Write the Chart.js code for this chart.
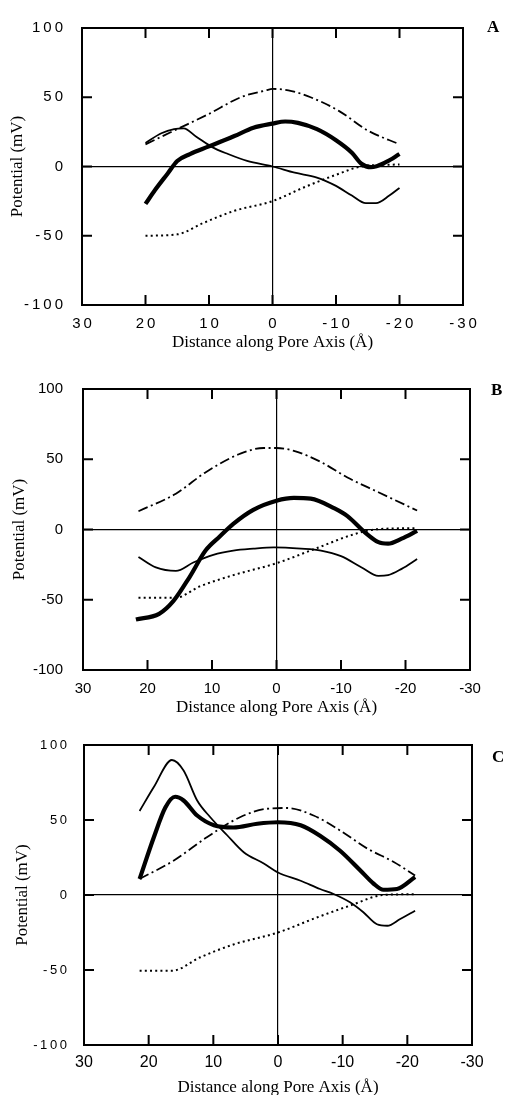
<!DOCTYPE html>
<html>
<head>
<meta charset="utf-8">
<script src="https://cdn.jsdelivr.net/npm/chart.js@4.4.1/dist/chart.umd.min.js"></script>
<style>
  body { margin: 0; background: #fff; width: 506px; height: 1095px; overflow: hidden; position: relative; }
  .panel { position: absolute; left: 0; width: 506px; }
  .tag { position: absolute; font: bold 17px "Liberation Serif", "Times New Roman", serif; line-height: 17px; color: #000; }
</style>
</head>
<body>
<div class="panel" style="top:0;height:360px"><canvas id="chartA" width="506" height="360"></canvas></div>
<div class="panel" style="top:360px;height:360px"><canvas id="chartB" width="506" height="360"></canvas></div>
<div class="panel" style="top:720px;height:390px"><canvas id="chartC" width="506" height="390"></canvas></div>
<div class="tag" style="left:487px;top:18px">A</div>
<div class="tag" style="left:491px;top:381px">B</div>
<div class="tag" style="left:492px;top:748px">C</div>

<script>
// shared axis ticks
var xTicks = [30, 20, 10, 0, -10, -20, -30];
var yTicks = [100, 50, 0, -50, -100];

// panel A
var aThickX = [20, 18.5, 16.5, 15, 13, 10, 6, 3, 0, -2, -4, -7, -10, -12.5, -14, -15.5, -18, -20];
var aThickY = [-27, -17, -5, 4, 9, 14.5, 22, 28, 31, 32.5, 31.5, 27, 19, 10, 2, -0.5, 3.5, 9];
var aThinX = [20, 17.5, 15.5, 14, 12, 9.5, 7, 4, 0, -3.5, -7, -10, -12.5, -14.7, -16.3, -18.4, -20];
var aThinY = [17, 24, 27, 27.5, 21.5, 14, 9, 4, 0, -4.5, -8, -14, -21, -26.5, -26.5, -21, -15.5];
var aDashX = [20, 15, 10, 5, 1, 0, -2.5, -6, -10.5, -15, -20];
var aDashY = [16, 27, 38, 50, 55, 56, 55, 50, 40, 26, 16];
var aDotX = [20, 15, 11, 6, 0, -5, -10, -14, -20];
var aDotY = [-50, -49, -41, -32, -25, -15, -6, 0, 1.5];

// panel B
var bThickX = [21.8, 18.2, 16, 13.5, 11, 8.8, 6.7, 3.6, 0, -2.7, -5.3, -9, -11, -13.7, -15.8, -17.3, -19.4, -21.8];
var bThickY = [-64, -60, -51, -34, -15, -5, 4, 14, 20.5, 22.5, 22, 15, 9.5, -2, -9, -10, -6.5, -1];
var bThinX = [21.4, 18.7, 15.6, 12.9, 9.8, 6.7, 3.6, 0.4, -3.8, -6.9, -10, -13.2, -15.8, -17.3, -19.4, -21.8];
var bThinY = [-19.5, -27, -29.5, -23.5, -18, -15, -13.6, -12.7, -13.6, -15, -19, -27, -33, -32.5, -28, -21];
var bDashX = [21.4, 15.6, 10.9, 5.6, 2, 0, -2.7, -6.9, -11, -15.8, -21.8];
var bDashY = [13, 25.5, 41, 54, 58, 58, 56, 48, 37, 26.5, 13.5];
var bDotX = [21.4, 15.6, 11.9, 6.7, 0, -6.4, -11.6, -15.2, -21.8];
var bDotY = [-48.5, -48.5, -40.5, -32.5, -24, -13, -4, 0, 1];

// panel C
var cThickX = [21.4, 19.2, 17.4, 15.9, 14.6, 12.5, 9.9, 6.9, 3.2, 0, -3.5, -6.5, -9.6, -12.7, -14.8, -16.3, -18.4, -21.2];
var cThickY = [10.7, 38.5, 58.5, 65.5, 63, 53, 46.5, 45, 47.5, 48.5, 46.5, 39.5, 29.5, 16.5, 7.5, 3.5, 4, 12];
var cThinX = [21.4, 19.2, 16.4, 14.6, 12.5, 10.5, 7.9, 5.3, 2.2, 0, -3.5, -6.5, -8.6, -11.2, -13.2, -15.3, -16.9, -18.9, -21.2];
var cThinY = [56, 72, 90, 83, 63, 52, 40, 28.5, 21, 15, 9.5, 4, 0.7, -5, -11.5, -19.5, -20.5, -16, -10.5];
var cDashX = [21.4, 16.1, 11, 5.8, 1.7, -1.4, -5.5, -9.6, -13.8, -17.9, -21.2];
var cDashY = [10.7, 23, 38.5, 52, 57.5, 58, 53, 43, 31, 22, 13];
var cDotX = [21.4, 16.4, 12, 6.9, 0, -6, -11.2, -16.3, -21.2];
var cDotY = [-50.5, -50.5, -41.5, -33, -25, -15, -7, 0, 0.5];

function pts(xs, ys) {
  return xs.map(function (x, i) { return { x: x, y: ys[i] }; });
}

// box round the plot with inward tick marks
var frame = {
  id: 'frame',
  afterDatasetsDraw: function (chart) {
    var ctx = chart.ctx, a = chart.chartArea, x = chart.scales.x, y = chart.scales.y;
    ctx.save();
    ctx.strokeStyle = '#000';
    ctx.lineWidth = 2;
    ctx.strokeRect(a.left, a.top, a.right - a.left, a.bottom - a.top);
    ctx.beginPath();
    x.ticks.forEach(function (t) {
      if (Math.abs(t.value) >= 30) return;
      var px = x.getPixelForValue(t.value);
      ctx.moveTo(px, a.top); ctx.lineTo(px, a.top + 10);
      ctx.moveTo(px, a.bottom); ctx.lineTo(px, a.bottom - 10);
    });
    y.ticks.forEach(function (t) {
      if (Math.abs(t.value) >= 100) return;
      var py = y.getPixelForValue(t.value);
      ctx.moveTo(a.left, py); ctx.lineTo(a.left + 10, py);
      ctx.moveTo(a.right, py); ctx.lineTo(a.right - 10, py);
    });
    ctx.stroke();
    ctx.restore();
  }
};

function spaced(sep) {
  return function (v) { return String(v).split('').join(sep); };
}

function zeroLine(c) {
  return c.tick && c.tick.value === 0 ? '#000' : 'rgba(0,0,0,0)';
}

function potentialChart(id, s, o) {
  return new Chart(document.getElementById(id).getContext('2d'), {
    type: 'line',
    data: {
      datasets: [
        { data: pts(s.dotX, s.dotY), borderColor: '#000', borderWidth: 2, borderDash: [2, 3.2] },
        { data: pts(s.dashX, s.dashY), borderColor: '#000', borderWidth: 1.8, borderDash: [10, 3.5, 2, 3.5] },
        { data: pts(s.thinX, s.thinY), borderColor: '#000', borderWidth: 1.8 },
        { data: pts(s.thickX, s.thickY), borderColor: '#000', borderWidth: 4.2 }
      ]
    },
    options: {
      responsive: false,
      animation: false,
      layout: { padding: { top: o.top, right: o.right, left: 0, bottom: 0 } },
      elements: { point: { radius: 0 }, line: { cubicInterpolationMode: 'monotone' } },
      plugins: { legend: { display: false }, tooltip: { enabled: false } },
      scales: {
        x: {
          type: 'linear', reverse: true, min: -30, max: 30,
          afterBuildTicks: function (sc) { sc.ticks = xTicks.map(function (v) { return { value: v }; }); },
          afterFit: function (sc) { sc.height = o.xHeight; },
          border: { display: false },
          grid: { drawTicks: false, lineWidth: 1.2, color: zeroLine },
          ticks: { color: '#000', padding: o.xPad, maxRotation: 0, autoSkip: false, font: { family: 'Liberation Sans', size: o.xFont }, callback: spaced(o.xSep) },
          title: { display: true, text: 'Distance along Pore Axis (Å)', color: '#000', font: { family: 'Liberation Serif', size: 17 }, padding: { top: 0, bottom: o.xTitlePad } }
        },
        y: {
          min: -100, max: 100,
          afterBuildTicks: function (sc) { sc.ticks = yTicks.map(function (v) { return { value: v }; }); },
          afterFit: function (sc) { sc.width = o.yWidth; },
          border: { display: false },
          grid: { drawTicks: false, lineWidth: 1.2, color: zeroLine },
          ticks: { color: '#000', padding: o.yPad, font: { family: 'Liberation Sans', size: o.yFont }, callback: spaced(o.ySep) },
          title: { display: true, text: 'Potential (mV)', color: '#000', font: { family: 'Liberation Serif', size: 17 }, padding: { top: o.yTitlePad, bottom: 0 } }
        }
      }
    },
    plugins: [frame]
  });
}

potentialChart('chartA',
  { thickX: aThickX, thickY: aThickY, thinX: aThinX, thinY: aThinY, dashX: aDashX, dashY: aDashY, dotX: aDotX, dotY: aDotY },
  { top: 18, right: 43, xHeight: 55, yWidth: 82, xPad: 10, yPad: 19, xFont: 15, yFont: 15, xSep: '\u2009', ySep: '\u2009', xTitlePad: 6.8, yTitlePad: 7.8 });

potentialChart('chartB',
  { thickX: bThickX, thickY: bThickY, thinX: bThinX, thinY: bThinY, dashX: bDashX, dashY: bDashY, dotX: bDotX, dotY: bDotY },
  { top: 19, right: 36, xHeight: 50, yWidth: 83, xPad: 10, yPad: 20, xFont: 15, yFont: 15, xSep: '', ySep: '', xTitlePad: 1.8, yTitlePad: 9.8 });

potentialChart('chartC',
  { thickX: cThickX, thickY: cThickY, thinX: cThinX, thinY: cThinY, dashX: cDashX, dashY: cDashY, dotX: cDotX, dotY: cDotY },
  { top: 25, right: 34, xHeight: 65, yWidth: 84, xPad: 7.5, yPad: 17, xFont: 16, yFont: 13, xSep: '', ySep: '\u2009', xTitlePad: 11.8, yTitlePad: 12.8 });
</script>
</body>
</html>
